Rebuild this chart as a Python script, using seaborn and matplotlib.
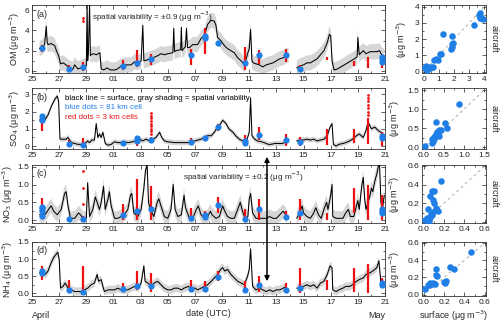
import numpy as np
import pandas as pd
import matplotlib
matplotlib.use("Agg")
import matplotlib.pyplot as plt
import seaborn as sns
from matplotlib.ticker import MultipleLocator
from matplotlib.patches import FancyArrowPatch

sns.set_theme(style="ticks")
plt.rcParams['font.family'] = ['Liberation Sans', 'DejaVu Sans']

NaN = np.nan
# ---------------- data (x = days since 25 April 00 UTC) ----------------
date_ticks = [0, 2, 4, 6, 8, 10, 12, 14, 16, 18, 20, 22, 24, 26]
date_labels = ["25", "27", "29", "01", "03", "05", "07", "09", "11", "13", "15", "17", "19", "21"]

# OM surface line
t_om = [0.55, 0.72, 0.93, 1.05, 1.12, 1.18, 1.42, 1.67, 1.8, 1.96, 2.1, 2.3, 2.5, 2.77, 3.0, 3.14, 3.38,
        3.6, 3.87, 4.0, 4.06, 4.1, 4.16, 4.24, 4.3, 4.36, 4.5, 4.75, 5.0, 5.1, 5.3, 5.5, 5.8, 6.1, 6.3,
        6.57, 6.9, 7.3, 7.55, 7.8, 8.04, 8.16, 8.24, 8.5, 8.9, 9.26, 9.5, 9.75, 10.0, 10.38, 10.44, 10.5,
        10.6, 10.95, 11.0, 11.05, 11.3, 11.38, 11.45, 11.6, 11.84, 12.2, 12.45, 12.7, 12.94, 13.2, 13.43,
        13.55, 13.67, 13.9, 14.17, 14.4, 14.65, 14.9, 15.15, 15.4, 15.64, 15.88, 16.0, 16.1, 16.2, 16.3,
        16.5, 16.75, 17.0, 17.25, 17.5, 17.75, 18.0, 18.25, 18.5, 18.75, 18.9, 19.2, 19.5, 19.75, 20.0,
        20.25, 20.5, 20.75, 21.0, 21.25, 21.5, 21.75, 21.9, 22.0, 22.1, 22.25, 22.5, 22.75, 23.0, 23.25,
        23.5, 23.75, 23.95, 24.0, 24.1, 24.4, 24.6, 24.9, 25.1, 25.4, 25.6, 25.75, 25.95]
v_om = [2.2, 2.3, 2.6, 4.4, 2.8, 2.6, 2.7, 2.5, 2.0, 1.5, 0.7, 0.8, 0.6, 0.3, 0.15, 0.6, 0.2,
        0.3, 0.5, 0.5, 6.6, 1.0, 2.0, 6.6, 1.5, 1.6, 1.7, 1.6, 1.8, 0.2, 0.1, 0.3, 0.1, 0.1, 0.2,
        0.5, 0.6, 0.6, 0.9, 0.8, 1.0, 4.5, 1.0, 1.1, 1.3, 1.5, 1.7, 1.6, 1.7, 1.8, 4.2, 1.9,
        2.0, 2.1, 4.3, 2.0, 2.4, 4.2, 2.3, 2.3, 2.6, 2.6, 3.2, 3.5, 4.6, 5.0, 4.9,
        4.5, 3.3, 3.0, 2.5, 2.2, 2.0, 1.8, 1.3, 1.0, 0.6, 1.7, 2.2, 4.1, 1.0, 0.8,
        0.7, 0.6, 0.4, 0.6, 0.7, 0.8, 1.0, 1.2, 1.3, 1.5, 1.6, NaN, 0.3, 0.5, 0.6,
        0.8, 0.8, 1.0, 1.2, 1.6, 2.0, 2.8, 3.6, 3.5, 1.0, 0.1, 0.2, 0.4, 0.6, 0.8,
        1.0, 1.2, 1.4, 3.3, 1.6, 2.0, 1.7, 1.9, 1.9, 1.9, 2.0, 1.6, 1.4]

# SO4 surface line
t_so4 = [0.56, 0.8, 0.93, 1.18, 1.42, 1.67, 1.86, 1.96, 2.06, 2.28, 2.52, 2.65, 2.9, 3.14, 3.38, 3.6,
         3.87, 4.1, 4.24, 4.4, 4.6, 4.73, 4.85, 4.97, 5.1, 5.22, 5.4, 5.6, 5.83, 6.08, 6.32, 6.57, 6.8,
         7.06, 7.43, 7.67, 7.9, 8.16, 8.4, 8.65, 8.9, 9.14, 9.4, 9.56, 9.75, 10.0, 10.5, 11.0, 11.5,
         12.0, 12.45, 12.7, 12.94, 13.2, 13.43, 13.67, 13.9, 14.04, 14.3, 14.5, 14.8, 15.0, 15.27,
         15.5, 15.76, 16.0, 16.1, 16.2, 16.4, 16.6, 16.9, 17.1, 17.4, 17.6, 17.9, 18.1, 18.4, 18.6,
         18.8, 19.2, 19.5, 19.75, 20.0, 20.25, 20.5, 20.75, 21.0, 21.25, 21.5, 21.75, 21.95, 22.1,
         22.2, 22.4, 22.6, 22.9, 23.1, 23.4, 23.6, 23.9, 24.1, 24.4, 24.6, 24.75, 25.0, 25.25, 25.5,
         25.7, 25.95]
v_so4 = [1.5, 1.7, 1.5, 1.8, 2.3, 2.7, 2.9, 2.6, 0.4, 0.4, 0.4, 0.5, 0.2, 0.15, 0.1, 0.1,
         0.12, 0.3, 0.2, 0.35, 0.35, 1.3, 0.5, 0.7, 0.5, 0.8, 0.15, 0.05, 0.1, 0.25, 0.2, 0.2, 0.25,
         0.2, 0.25, 0.3, 0.4, 0.3, 0.4, 0.3, 0.4, 0.5, 0.8, 0.5, 0.3, 0.25, 0.2, 0.2, 0.2,
         0.3, 0.4, 0.5, 0.6, 0.6, 0.8, 1.1, 1.3, 1.5, 1.3, 1.0, 0.8, 0.6, 0.4,
         0.3, 0.2, 0.8, 2.8, 0.6, 0.4, 0.3, 0.25, 0.2, 0.1, 0.1, 0.15, 0.15, 0.15, 0.2,
         0.2, NaN, 0.3, 0.35, 0.35, 0.4, 0.35, 0.4, 0.3, 0.35, 0.4, 0.6, 1.1, 1.3,
         0.1, 0.0, 0.1, 0.15, 0.2, 0.3, 0.4, 0.6, 0.7, 0.5, 0.9, 1.4, 1.0, 1.1, 0.9,
         0.8, 0.6]

# NO3 surface line
t_no3 = [0.56, 0.8, 1.05, 1.3, 1.42, 1.6, 1.86, 2.15, 2.4, 2.52, 2.65, 2.84, 3.14, 3.43, 3.58, 3.75,
         4.0, 4.1, 4.24, 4.48, 4.66, 4.8, 4.97, 5.1, 5.27, 5.39, 5.6, 5.7, 5.83, 6.08, 6.32, 6.57, 6.8,
         7.06, 7.25, 7.35, 7.5, 7.8, 8.04, 8.24, 8.36, 8.48, 8.58, 8.72, 8.97, 9.22, 9.34, 9.5, 9.75,
         10.0, 10.24, 10.4, 10.54, 10.74, 11.0, 11.2, 11.3, 11.6, 11.84, 12.1, 12.25, 12.45, 12.7,
         12.94, 13.14, 13.26, 13.55, 13.8, 14.04, 14.2, 14.4, 14.65, 14.9, 15.15, 15.34, 15.5, 15.7,
         15.9, 16.0, 16.1, 16.25, 16.5, 16.9, 17.25, 17.5, 17.75, 18.0, 18.25, 18.5, 18.7, 18.8, 19.2,
         19.5, 19.7, 19.9, 20.0, 20.25, 20.5, 20.75, 20.9, 21.1, 21.3, 21.5, 21.7, 21.8, 22.0, 22.1,
         22.15, 22.4, 22.6, 22.9, 23.1, 23.3, 23.45, 23.7, 23.9, 24.0, 24.1, 24.3, 24.4, 24.5, 24.6,
         24.75, 24.9, 25.0, 25.1, 25.25, 25.4, 25.5, 25.6, 25.7, 25.8, 25.95]
v_no3 = [0.15, 0.1, 0.2, 0.35, 0.4, 0.25, 0.15, 0.3, 0.75, 0.8, 0.4, 0.05, 0.05, 0.2, 0.15, 0.05,
         0.05, 1.05, 0.1, 0.3, 0.65, 0.5, 0.3, 0.5, 0.95, 0.3, 0.6, 0.8, 0.4, 0.05, 0.05, 0.1, 0.15,
         0.3, 0.7, 0.75, 0.2, 0.1, 0.3, 0.9, 1.4, 1.55, 0.5, 0.3, 0.1, 0.5, 0.6, 0.4, 0.1,
         0.05, 0.3, 1.0, 0.3, 0.1, 0.15, 0.7, 0.35, 0.05, 0.05, 0.3, 0.4, 0.15, 0.05,
         0.1, 0.25, 0.15, 0.05, 0.1, 0.4, 0.25, 0.1, 0.05, 0.05, 0.3, 0.5, 0.25, 0.05,
         0.1, 0.6, 0.75, 0.2, 0.05, 0.05, 0.05, 0.1, 0.05, 0.05, 0.15, 0.25, 0.15, 0.05, NaN,
         0.05, 0.2, 0.4, 0.2, 0.1, 0.05, 0.2, 0.35, 0.15, 0.05, 0.3, 0.5, 0.3, 0.7, 1.0,
         0.1, 0.05, 0.05, 0.05, 0.2, 0.3, 0.1, 0.1, 0.4, 0.55, 0.3, 1.0, 1.2, 0.6, 0.3,
         0.5, 0.7, 0.9, 0.8, 1.1, 1.3, 1.5, 1.55, 0.5, 0.3, 0.7]

# NH4 surface line
t_nh4 = [0.56, 0.8, 0.98, 1.18, 1.42, 1.6, 1.8, 1.9, 2.0, 2.1, 2.28, 2.45, 2.65, 2.9, 3.14, 3.38, 3.63,
         3.87, 4.1, 4.36, 4.6, 4.8, 4.9, 5.1, 5.22, 5.34, 5.6, 5.83, 6.08, 6.32, 6.57, 6.8, 7.06, 7.3,
         7.55, 7.8, 8.04, 8.24, 8.33, 8.53, 8.77, 9.0, 9.26, 9.5, 9.75, 10.0, 10.24, 10.5, 10.74, 11.0,
         11.2, 11.5, 11.7, 12.0, 12.2, 12.45, 12.7, 12.94, 13.2, 13.43, 13.67, 13.9, 14.04, 14.2, 14.4,
         14.65, 14.9, 15.15, 15.4, 15.64, 15.88, 16.0, 16.1, 16.25, 16.5, 16.75, 17.0, 17.25, 17.5,
         17.75, 18.0, 18.25, 18.5, 18.75, 19.2, 19.5, 19.75, 20.0, 20.25, 20.5, 20.75, 21.0, 21.25,
         21.5, 21.75, 21.95, 22.1, 22.15, 22.4, 22.6, 22.9, 23.1, 23.4, 23.6, 23.9, 24.1, 24.4, 24.6,
         24.9, 25.1, 25.4, 25.55, 25.7, 25.9]
v_nh4 = [0.6, 0.6, 0.55, 0.65, 0.9, 1.05, 1.15, 1.2, 1.0, 0.15, 0.2, 0.3, 0.15, 0.1, 0.05, 0.05, 0.05,
         0.1, 0.15, 0.25, 0.3, 0.55, 0.35, 0.4, 0.2, 0.05, 0.1, 0.1, 0.1, 0.15, 0.1, 0.1, 0.1, 0.15,
         0.2, 0.15, 0.3, 0.8, 0.35, 0.3, 0.2, 0.3, 0.35, 0.25, 0.15, 0.1, 0.1, 0.15, 0.15, 0.1,
         0.15, 0.2, 0.15, 0.15, 0.1, 0.15, 0.2, 0.25, 0.35, 0.45, 0.55, 0.7, 0.75, 0.65, 0.7,
         0.55, 0.45, 0.35, 0.3, 0.25, 0.5, 0.7, 1.3, 0.2, 0.1, 0.15, 0.1, 0.05, 0.1,
         0.05, 0.1, 0.1, 0.15, 0.2, NaN, 0.15, 0.15, 0.2, 0.25, 0.2, 0.25, 0.15, 0.3,
         0.35, 0.55, 0.8, 0.75, 0.1, 0.05, 0.1, 0.15, 0.2, 0.2, 0.25, 0.35, 0.4, 0.45, 0.55,
         0.6, 0.65, 0.75, 0.95, 0.3, 0.3]

# gray shading half-width (spatial variability)
band_om, band_so4, band_no3, band_nh4 = 0.75, 0.15, 0.2, 0.12

# aircraft flight times
flight_t = [0.72, 2.75, 3.73, 6.73, 7.72, 8.74, 11.72, 12.74, 13.72, 15.72, 16.72, 18.72, 19.72,
            21.72, 23.72, 24.72, 25.75]

# red dots (3 km cells): vertical range per flight, plus isolated dots
red_lo_om = [1.9, 0.0, 0.0, 0.1, 0.4, 0.6, 0.6, 1.7, 2.7, 0.1, 0.65, 0.85, 0.0, 1.1, 0.5, 0.3, 0.3]
red_hi_om = [2.6, 0.6, 0.9, 1.1, 2.1, 1.7, 2.2, 4.2, 2.9, 2.4, 2.05, 2.2, 0.55, 1.4, 1.0, 1.4, 1.6]
red_xt_om = [3.73, 3.73]
red_xv_om = [5.2, 4.95]
red_lo_so4 = [0.9, 0.0, 0.0, 0.0, 0.0, 0.2, 0.15, 0.35, 0.9, 0.0, 0.35, 0.0, 0.0, 0.05, 0.15, 0.1, 0.0]
red_hi_so4 = [1.8, 0.35, 0.45, 0.25, 0.55, 0.5, 0.45, 0.55, 1.3, 0.65, 1.1, 0.7, 0.55, 1.0, 1.0, 1.6, 0.8]
red_xt_so4 = [8.74] * 9 + [24.72] * 7
red_xv_so4 = [0.7, 0.85, 1.0, 1.15, 1.3, 1.45, 1.6, 1.75, 1.9, 1.8, 2.0, 2.2, 2.4, 2.6, 2.8, 2.95]
red_lo_no3 = [0.05, 0.0, 0.0, 0.0, 0.0, 0.0, 0.0, 0.05, 0.2, 0.0, 0.0, 0.0, 0.0, 0.0, 0.2, 0.0, 0.0]
red_hi_no3 = [0.62, 0.1, 0.12, 0.45, 1.15, 0.95, 0.35, 0.25, 0.65, 0.3, 0.6, 0.25, 0.6, 0.2, 0.9, 1.0, 0.7]
red_xt_no3 = [3.73, 3.73, 3.73]
red_xv_no3 = [1.38, 0.9, 0.45]
red_lo_nh4 = [0.38, 0.0, 0.0, 0.05, 0.1, 0.05, 0.05, 0.05, 0.35, 0.0, 0.05, 0.0, 0.0, 0.1, 0.05, 0.0, 0.15]
red_hi_nh4 = [0.8, 0.4, 0.8, 0.3, 0.65, 0.6, 0.4, 0.35, 0.65, 0.35, 0.5, 0.3, 0.75, 0.4, 0.75, 0.85, 0.45]
red_xt_nh4 = []
red_xv_nh4 = []

# blue dots (81 km cell)
blue_t_om = [0.72, 2.75, 3.73, 6.73, 7.72, 8.74, 11.72, 12.74, 12.74, 13.72, 15.72, 16.72, 18.72, 19.72,
             25.75, 25.75, 25.75]
blue_v_om = [2.3, 0.2, 0.4, 0.5, 0.8, 1.2, 1.6, 3.2, 3.4, 2.8, 0.8, 1.6, 1.6, 0.15, 0.9, 1.2, 1.4]
blue_t_so4 = [0.72, 0.72, 2.75, 3.73, 6.73, 7.72, 7.72, 8.74, 11.72, 12.74, 13.72, 15.72, 15.72, 16.72,
              18.72, 19.72, 25.75, 25.75]
blue_v_so4 = [1.5, 1.75, 0.1, 0.07, 0.2, 0.3, 0.45, 0.35, 0.25, 0.45, 1.1, 0.2, 0.3, 0.63,
              0.35, 0.25, 0.45, 0.6]
blue_t_no3 = [0.72, 0.72, 0.72, 0.72, 2.75, 3.73, 6.73, 7.72, 8.74, 11.72, 12.74, 12.74, 13.72, 15.72,
              16.72, 18.72, 19.72, 25.75, 25.75, 25.75]
blue_v_no3 = [0.12, 0.25, 0.33, 0.38, 0.02, 0.03, 0.13, 0.25, 0.3, 0.07, 0.1, 0.15, 0.42, 0.03,
              0.32, 0.1, 0.2, 0.2, 0.25, 0.3]
blue_t_nh4 = [0.72, 0.72, 2.75, 3.73, 6.73, 7.72, 8.74, 11.72, 12.74, 13.72, 15.72, 16.72, 18.72,
              19.72, 25.75, 25.75]
blue_v_nh4 = [0.6, 0.65, 0.1, 0.05, 0.13, 0.22, 0.2, 0.12, 0.12, 0.47, 0.1, 0.25, 0.1, 0.15, 0.25, 0.3]

# scatter: surface vs aircraft
sc_x_om = [0.1, 0.2, 0.3, 0.4, 0.5, 0.15, 0.6, 0.7, 0.85, 0.95, 1.05, 1.15, 1.25, 1.8, 1.85, 1.9, 1.95,
           1.9, 3.3, 3.65, 3.7, 3.7, 3.8, 3.9, 3.7]
sc_y_om = [0.2, 0.1, 0.3, 0.2, 0.3, 0.35, 0.3, 0.7, 0.75, 0.7, 1.1, 1.1, 2.3, 1.4, 1.5, 1.7, 1.75,
           2.2, 2.85, 3.5, 3.4, 3.3, 3.3, 3.25, 3.6]
sc_x_so4 = [0.04, 0.2, 0.24, 0.26, 0.29, 0.31, 0.34, 0.31, 0.35, 0.39, 0.43, 0.54, 0.57, 0.89, 0.26,
            0.22, 0.37, 0.33]
sc_y_so4 = [0.05, 0.12, 0.17, 0.27, 0.31, 0.36, 0.41, 0.67, 0.41, 0.46, 0.46, 0.64, 0.5, 1.14, 0.22,
            0.22, 0.31, 0.33]
sc_x_no3 = [0.015, 0.03, 0.05, 0.06, 0.08, 0.095, 0.04, 0.06, 0.08, 0.1, 0.095, 0.105, 0.125, 0.14,
            0.175, 0.05, 0.07]
sc_y_no3 = [0.02, 0.04, 0.03, 0.055, 0.07, 0.11, 0.14, 0.28, 0.33, 0.33, 0.23, 0.2, 0.15, 0.12,
            0.44, 0.01, 0.09]
sc_x_nh4 = [0.015, 0.04, 0.06, 0.08, 0.095, 0.11, 0.125, 0.125, 0.135, 0.2, 0.205, 0.215, 0.26, 0.3,
            0.46, 0.05]
sc_y_nh4 = [0.07, 0.11, 0.13, 0.12, 0.13, 0.12, 0.23, 0.3, 0.22, 0.15, 0.13, 0.16, 0.32, 0.3,
            0.5, 0.11]

# ---------------- figure ----------------
BLUE = "#1f7fe6"
RED = "#ee1111"
BAND = "#d6d6d6"
W, H = 500, 323
fig = plt.figure(figsize=(5.0, 3.23), dpi=100)

def frac(left, top, right, bottom):
    return [left / W, 1 - bottom / H, (right - left) / W, (bottom - top) / H]

rows = [(5, 73.3), (88.3, 149), (165, 223.3), (242, 296)]

panels = [
    dict(t=t_om, v=v_om, band=band_om, lo=red_lo_om, hi=red_hi_om, xt=red_xt_om, xv=red_xv_om,
         bt=blue_t_om, bv=blue_v_om, sx=sc_x_om, sy=sc_y_om, ylim=(-0.23, 6.5), yt=[0, 2, 4, 6],
         yl=["0", "2", "4", "6"], ymin=1, slim=(-0.1, 4.1), st=[0, 1, 2, 3, 4], sminor=0.5,
         sfmt="{:.0f}", name="OM", tag="(a)"),
    dict(t=t_so4, v=v_so4, band=band_so4, lo=red_lo_so4, hi=red_hi_so4, xt=red_xt_so4, xv=red_xv_so4,
         bt=blue_t_so4, bv=blue_v_so4, sx=sc_x_so4, sy=sc_y_so4, ylim=(-0.17, 3.35), yt=[0, 1, 2, 3],
         yl=["0", "1", "2", "3"], ymin=0.5, slim=(-0.04, 1.55), st=[0, 0.5, 1.0, 1.5], sminor=0.25,
         sfmt="{:.1f}", name="SO$_4$", tag="(b)"),
    dict(t=t_no3, v=v_no3, band=band_no3, lo=red_lo_no3, hi=red_hi_no3, xt=red_xt_no3, xv=red_xv_no3,
         bt=blue_t_no3, bv=blue_v_no3, sx=sc_x_no3, sy=sc_y_no3, ylim=(-0.09, 1.55), yt=[0, 0.5, 1.0, 1.5],
         yl=["0.0", "0.5", "1.0", "1.5"], ymin=0.25, slim=(-0.015, 0.61), st=[0, 0.2, 0.4, 0.6], sminor=0.1,
         sfmt="{:.1f}", name="NO$_3$", tag="(c)"),
    dict(t=t_nh4, v=v_nh4, band=band_nh4, lo=red_lo_nh4, hi=red_hi_nh4, xt=red_xt_nh4, xv=red_xv_nh4,
         bt=blue_t_nh4, bv=blue_v_nh4, sx=sc_x_nh4, sy=sc_y_nh4, ylim=(-0.08, 1.5), yt=[0, 0.5, 1.0, 1.5],
         yl=["0.0", "0.5", "1.0", "1.5"], ymin=0.25, slim=(-0.015, 0.61), st=[0, 0.2, 0.4, 0.6], sminor=0.1,
         sfmt="{:.1f}", name="NH$_4$", tag="(d)"),
]

def style_ticks(ax, fs=6):
    ax.tick_params(which="both", direction="in", top=True, right=True, width=0.5,
                   labelsize=fs, pad=2, colors="#222222")
    ax.tick_params(which="major", length=3)
    ax.tick_params(which="minor", length=1.6)
    for s in ax.spines.values():
        s.set_linewidth(0.6)
        s.set_color("#333333")

axes_t = []
for i, p in enumerate(panels):
    top, bot = rows[i]
    ax = fig.add_axes(frac(32, top, 385, bot))
    axes_t.append(ax)
    t = np.array(p["t"], dtype=float)
    v = np.array(p["v"], dtype=float)
    ax.fill_between(t, v - p["band"], v + p["band"], color=BAND, lw=0, zorder=1)
    seg = np.cumsum(np.isnan(v))
    df = pd.DataFrame({"t": t, "v": v, "seg": seg}).dropna()
    sns.lineplot(data=df, x="t", y="v", units="seg", estimator=None, color="black", lw=0.75,
                 ax=ax, zorder=3, legend=False)
    ax.vlines(flight_t, p["lo"], p["hi"], color=RED, lw=1.6, zorder=4)
    if len(p["xt"]):
        sns.scatterplot(x=p["xt"], y=p["xv"], color=RED, s=4, linewidth=0, ax=ax, zorder=4)
    sns.scatterplot(x=p["bt"], y=p["bv"], color=BLUE, s=20, linewidth=0, ax=ax, zorder=5)
    ax.set_xlim(0, 26)
    ax.set_ylim(*p["ylim"])
    ax.set_xticks(date_ticks)
    ax.set_xticklabels(date_labels)
    ax.xaxis.set_minor_locator(MultipleLocator(1))
    ax.set_yticks(p["yt"])
    ax.set_yticklabels(p["yl"])
    ax.yaxis.set_minor_locator(MultipleLocator(p["ymin"]))
    ax.set_xlabel("")
    ax.set_ylabel(p["name"] + " (μg m$^{-3}$)", fontsize=6.5, labelpad=2)
    style_ticks(ax)
    ax.text(0.012, 0.93, p["tag"], transform=ax.transAxes, fontsize=6.5, va="top", ha="left")

    # scatter panel
    sax = fig.add_axes(frac(422, top, 486, bot))
    lo, hi = p["slim"]
    sax.plot([lo, hi], [lo, hi], ls=(0, (3, 3)), color="#b0b0b0", lw=0.7, zorder=1)
    sns.scatterplot(x=p["sx"], y=p["sy"], color=BLUE, s=22, linewidth=0, ax=sax, zorder=3)
    sax.set_xlim(lo, hi)
    sax.set_ylim(lo, hi)
    sax.set_xticks(p["st"])
    sax.set_yticks(p["st"])
    sax.set_xticklabels([p["sfmt"].format(s) for s in p["st"]])
    sax.set_yticklabels([p["sfmt"].format(s) for s in p["st"]])
    sax.xaxis.set_minor_locator(MultipleLocator(p["sminor"]))
    sax.yaxis.set_minor_locator(MultipleLocator(p["sminor"]))
    style_ticks(sax)
    sax.set_ylabel("(μg m$^{-3}$)", fontsize=6.5, labelpad=4)
    sax.text(1.12, 0.5, "aircraft", transform=sax.transAxes, rotation=-90, fontsize=6.5,
             va="center", ha="center")
    if i == 3:
        sax.set_xlabel("surface (μg m$^{-3}$)", fontsize=6.5, labelpad=2)

# annotations
axa, axb, axc, axd = axes_t
axa.text(0.17, 0.83, "spatial variability = ±0.9 (μg m$^{-3}$)", transform=axa.transAxes,
         fontsize=5.9, va="center", ha="left")
axb.text(0.093, 0.83, "black line = surface, gray shading = spatial variability", transform=axb.transAxes,
         fontsize=5.7, va="center", ha="left", color="black")
axb.text(0.093, 0.68, "blue dots = 81 km cell", transform=axb.transAxes, fontsize=5.7,
         va="center", ha="left", color=BLUE)
axb.text(0.093, 0.52, "red dots = 3 km cells", transform=axb.transAxes, fontsize=5.7,
         va="center", ha="left", color=RED)
axc.text(0.428, 0.80, "spatial variability = ±0.2 (μg m$^{-3}$)", transform=axc.transAxes,
         fontsize=5.9, va="center", ha="left")
axd.set_xlabel("date (UTC)", fontsize=6.5, labelpad=2)
fig.text(32 / W, 1 - 316 / H, "April", fontsize=6.5, ha="left", va="center")
fig.text(385 / W, 1 - 316 / H, "May", fontsize=6.5, ha="right", va="center")

arrow = FancyArrowPatch((267 / W, 1 - 154 / H), (267 / W, 1 - 284 / H), transform=fig.transFigure,
                        arrowstyle="<|-|>", mutation_scale=7, lw=1.1, color="black")
fig.add_artist(arrow)

fig.savefig("out.png", dpi=100)
